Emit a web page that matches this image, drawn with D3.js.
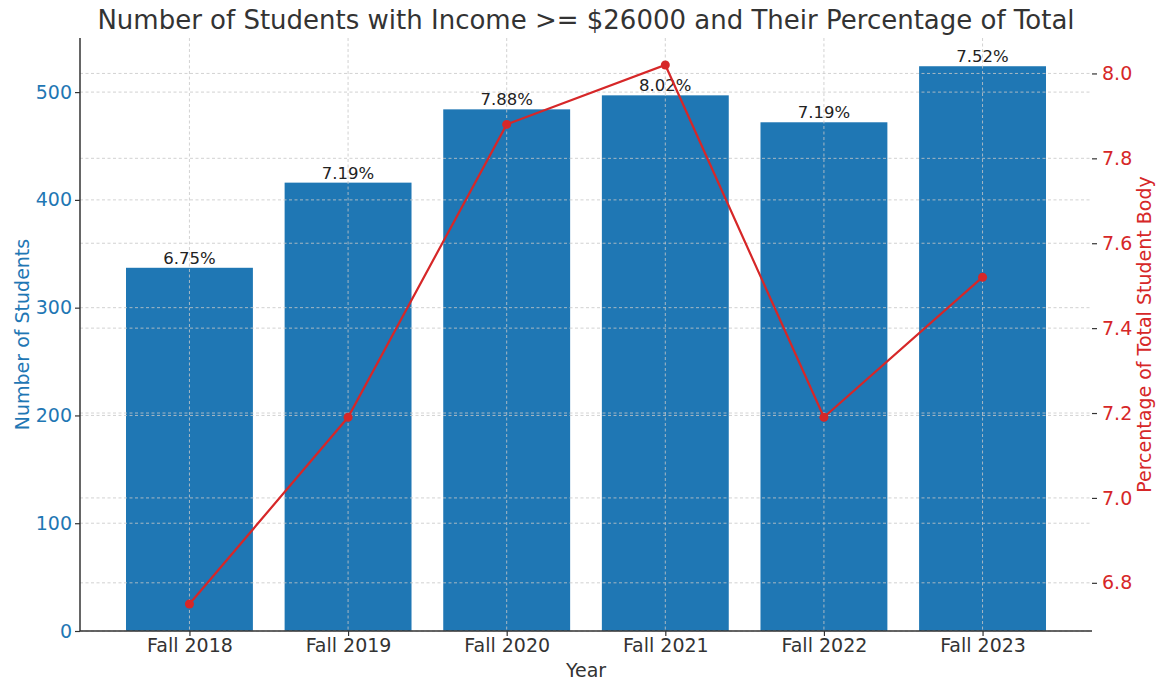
<!DOCTYPE html>
<html>
<head>
<meta charset="utf-8">
<script src="https://cdn.jsdelivr.net/npm/d3@7"></script>
<style>
  html, body { margin: 0; padding: 0; background: #fff; }
  svg { display: block; font-family: "DejaVu Sans", sans-serif; }
</style>
</head>
<body>
<svg id="chart" width="1157" height="680"></svg>
<script>
// Data
const years = ["Fall 2018", "Fall 2019", "Fall 2020", "Fall 2021", "Fall 2022", "Fall 2023"];
const studentCounts = [337, 416, 484, 497, 472, 524];
const percentages = [6.75, 7.19, 7.88, 8.02, 7.19, 7.52];
const countTicks = [0, 100, 200, 300, 400, 500];
const percentTicks = [6.8, 7.0, 7.2, 7.4, 7.6, 7.8, 8.0];

const blue = "#1f77b4";
const red = "#d62728";
const textDark = "#333333";

const svg = d3.select("#chart");
const plot = { left: 80, right: 1092, top: 38, bottom: 631 };

// Category positions on a continuous index scale with padding like matplotlib bars
const barFrac = 0.8;
const x = d3.scaleLinear()
  .domain([-0.69, years.length - 1 + 0.69])
  .range([plot.left, plot.right]);
const step = x(1) - x(0);

const yLeft = d3.scaleLinear()
  .domain([0, d3.max(studentCounts) * 1.05])
  .range([plot.bottom, plot.top]);

const pMin = d3.min(percentages), pMax = d3.max(percentages);
const pPad = (pMax - pMin) * 0.05;
const yRight = d3.scaleLinear()
  .domain([pMin - pPad, pMax + pPad])
  .range([plot.bottom, plot.top]);

// Bars
svg.append("g")
  .selectAll("rect")
  .data(studentCounts)
  .join("rect")
  .attr("x", (d, i) => x(i) - step * barFrac / 2)
  .attr("width", step * barFrac)
  .attr("y", d => yLeft(d))
  .attr("height", d => yLeft(0) - yLeft(d))
  .attr("fill", blue);

// Grid (dashed, drawn over the bars)
const grid = svg.append("g")
  .attr("stroke", "#c8c8c8")
  .attr("stroke-width", 0.9)
  .attr("stroke-dasharray", "3,2.5")
  .attr("opacity", 0.9);

grid.selectAll("line.gx")
  .data(years)
  .join("line")
  .attr("class", "gx")
  .attr("x1", (d, i) => x(i)).attr("x2", (d, i) => x(i))
  .attr("y1", plot.top).attr("y2", plot.bottom);

grid.selectAll("line.gl")
  .data(countTicks)
  .join("line")
  .attr("class", "gl")
  .attr("x1", plot.left).attr("x2", plot.right)
  .attr("y1", d => yLeft(d)).attr("y2", d => yLeft(d));

grid.selectAll("line.gr")
  .data(percentTicks)
  .join("line")
  .attr("class", "gr")
  .attr("x1", plot.left).attr("x2", plot.right)
  .attr("y1", d => yRight(d)).attr("y2", d => yRight(d));

// Percentage labels above bars
svg.append("g")
  .selectAll("text")
  .data(studentCounts)
  .join("text")
  .attr("x", (d, i) => x(i))
  .attr("y", d => yLeft(d) - 4)
  .attr("text-anchor", "middle")
  .attr("font-size", 16.5)
  .attr("fill", "#222")
  .text((d, i) => percentages[i].toFixed(2) + "%");

// Percentage line
const line = d3.line()
  .x((d, i) => x(i))
  .y(d => yRight(d));

svg.append("path")
  .datum(percentages)
  .attr("d", line)
  .attr("fill", "none")
  .attr("stroke", red)
  .attr("stroke-width", 2.2);

svg.append("g")
  .selectAll("circle")
  .data(percentages)
  .join("circle")
  .attr("cx", (d, i) => x(i))
  .attr("cy", d => yRight(d))
  .attr("r", 4.5)
  .attr("fill", red);

// Axes
const fontSize = 19;

const leftAxis = svg.append("g")
  .attr("transform", `translate(${plot.left},0)`)
  .call(d3.axisLeft(yLeft).tickValues(countTicks).tickSize(5).tickPadding(3));
leftAxis.select(".domain").attr("stroke", textDark).attr("stroke-width", 1.5)
  .attr("d", `M0,${plot.bottom}V${plot.top}`);
leftAxis.selectAll(".tick line").attr("stroke", textDark).attr("stroke-width", 1.2);
leftAxis.selectAll(".tick text").attr("fill", blue).attr("font-size", fontSize)
  .attr("font-family", "DejaVu Sans, sans-serif");

const rightAxis = svg.append("g")
  .attr("transform", `translate(${plot.right},0)`)
  .call(d3.axisRight(yRight).tickValues(percentTicks).tickFormat(d3.format(".1f")).tickSize(5).tickPadding(5));
rightAxis.select(".domain").remove();
rightAxis.selectAll(".tick line").attr("stroke", textDark).attr("stroke-width", 1.2);
rightAxis.selectAll(".tick text").attr("fill", red).attr("font-size", fontSize)
  .attr("font-family", "DejaVu Sans, sans-serif");

const bottomAxis = svg.append("g")
  .attr("transform", `translate(0,${plot.bottom})`)
  .call(d3.axisBottom(x).tickValues(d3.range(years.length)).tickFormat(i => years[i]).tickSize(5).tickPadding(3));
bottomAxis.select(".domain").attr("stroke", textDark).attr("stroke-width", 1.5)
  .attr("d", `M${plot.left},0H${plot.right}`);
bottomAxis.selectAll(".tick line").attr("stroke", textDark).attr("stroke-width", 1.2);
bottomAxis.selectAll(".tick text").attr("fill", textDark).attr("font-size", fontSize)
  .attr("font-family", "DejaVu Sans, sans-serif");

// Axis titles
svg.append("text")
  .attr("transform", `translate(28.5,${(plot.top + plot.bottom) / 2}) rotate(-90)`)
  .attr("text-anchor", "middle")
  .attr("font-size", fontSize)
  .attr("fill", blue)
  .text("Number of Students");

svg.append("text")
  .attr("transform", `translate(1151,${(plot.top + plot.bottom) / 2}) rotate(-90)`)
  .attr("text-anchor", "middle")
  .attr("font-size", fontSize)
  .attr("fill", red)
  .text("Percentage of Total Student Body");

svg.append("text")
  .attr("x", (plot.left + plot.right) / 2)
  .attr("y", 677)
  .attr("text-anchor", "middle")
  .attr("font-size", fontSize)
  .attr("fill", textDark)
  .text("Year");

// Title
svg.append("text")
  .attr("x", (plot.left + plot.right) / 2)
  .attr("y", 29)
  .attr("text-anchor", "middle")
  .attr("font-size", 26)
  .attr("fill", textDark)
  .text("Number of Students with Income >= $26000 and Their Percentage of Total");
</script>
</body>
</html>
